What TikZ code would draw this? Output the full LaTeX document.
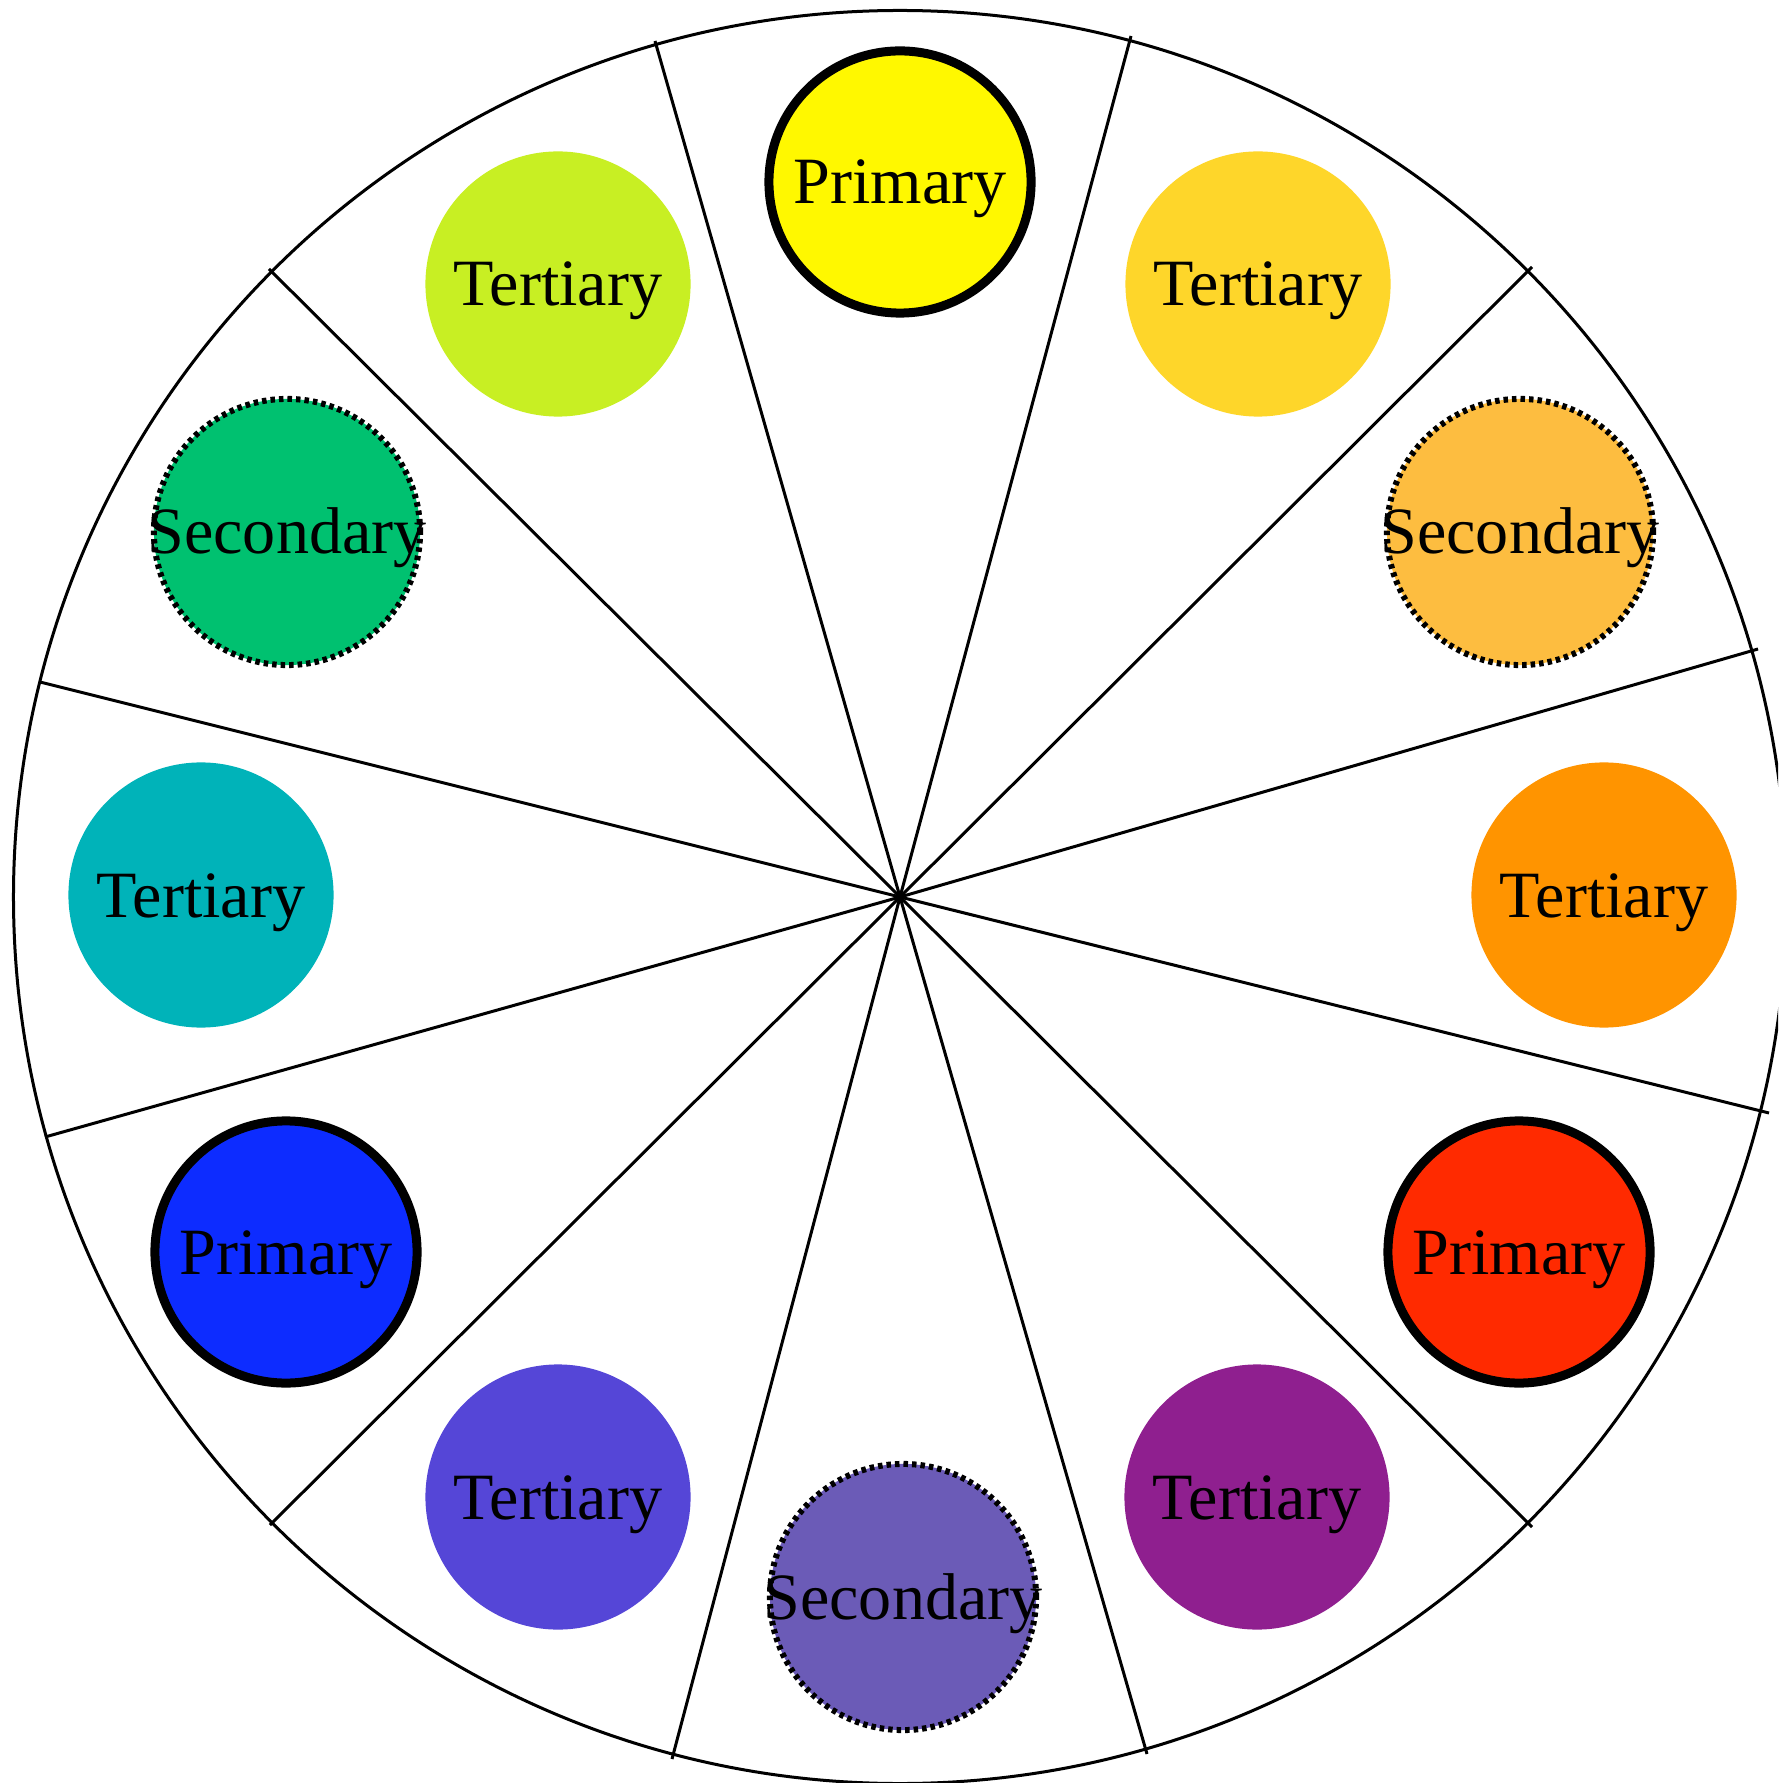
\documentclass[tikz,border=0pt]{standalone}
\usepackage{fontspec}
\setmainfont{Liberation Serif}
\definecolor{cYellow}{HTML}{FFF800}
\definecolor{cYellowOrange}{HTML}{FED62A}
\definecolor{cOrangeSec}{HTML}{FDBD40}
\definecolor{cOrange}{HTML}{FF9400}
\definecolor{cRed}{HTML}{FF2A00}
\definecolor{cRedViolet}{HTML}{8F1F8F}
\definecolor{cViolet}{HTML}{6B5BB7}
\definecolor{cBlueViolet}{HTML}{5546D7}
\definecolor{cBlue}{HTML}{0D2CFF}
\definecolor{cTeal}{HTML}{00B3B9}
\definecolor{cGreen}{HTML}{00C170}
\definecolor{cYellowGreen}{HTML}{C8EF23}
\tikzset{
  spoke/.style={line width=0.03cm, black},
  primarydot/.style={circle, inner sep=0pt, outer sep=0pt, minimum size=2.62cm, draw=black, line width=0.09cm},
  secondarydot/.style={circle, inner sep=0pt, outer sep=0pt, minimum size=2.66cm, draw=black, line width=0.06cm, dash pattern=on 0.045cm off 0.04cm},
  tertiarydot/.style={circle, inner sep=0pt, outer sep=0pt, minimum size=2.65cm},
  lbl/.style={anchor=base, inner sep=0pt, font=\fontsize{18.8}{23}\selectfont}
}
\begin{document}
\begin{tikzpicture}[x=0.01cm, y=-0.01cm]
\useasboundingbox (0,0) rectangle (1778,1783);
\begin{scope}
\clip (0,0) rectangle (1778,1783);
\fill[white] (0,0) rectangle (1778,1783);
\coordinate (c) at (900,897);
\node[circle, draw=black, line width=0.03cm, inner sep=0pt, minimum size=17.72cm] (wheel) at (c) {};
\coordinate (s1) at (655,41);
\coordinate (s2) at (1131,36);
\coordinate (s3) at (1532,267);
\coordinate (s4) at (1758,649);
\coordinate (s5) at (1769,1113);
\coordinate (s6) at (1532,1527);
\coordinate (s7) at (1147,1754);
\coordinate (s8) at (672,1759);
\coordinate (s9) at (270,1525);
\coordinate (s10) at (45,1137);
\coordinate (s11) at (40,682);
\coordinate (s12) at (269,269);
\foreach \i in {1,...,12}{\draw[spoke] (c) -- (s\i);}
% circles
\node[primarydot, fill=cYellow] (p1) at (900,182) {};
\node[tertiarydot, fill=cYellowOrange] (t1) at (1258,284) {};
\node[secondarydot, fill=cOrangeSec] (q1) at (1520,532) {};
\node[tertiarydot, fill=cOrange] (t2) at (1604,895) {};
\node[primarydot, fill=cRed] (p2) at (1519,1252) {};
\node[tertiarydot, fill=cRedViolet] (t3) at (1257,1497) {};
\node[secondarydot, fill=cViolet] (q2) at (903,1597) {};
\node[tertiarydot, fill=cBlueViolet] (t4) at (558,1497) {};
\node[primarydot, fill=cBlue] (p3) at (286,1252) {};
\node[tertiarydot, fill=cTeal] (t5) at (201,895) {};
\node[secondarydot, fill=cGreen] (q3) at (287,532) {};
\node[tertiarydot, fill=cYellowGreen] (t6) at (558,284) {};
% labels
\path (p1.center) ++(0,22) node[lbl] {Primary};
\path (p2.center) ++(0,22) node[lbl] {Primary};
\path (p3.center) ++(0,22) node[lbl] {Primary};
\path (q1.center) ++(0,22) node[lbl] {Secondary};
\path (q2.center) ++(0,22) node[lbl] {Secondary};
\path (q3.center) ++(0,22) node[lbl] {Secondary};
\path (t1.center) ++(0,22) node[lbl] {Tertiary};
\path (t2.center) ++(0,22) node[lbl] {Tertiary};
\path (t3.center) ++(0,22) node[lbl] {Tertiary};
\path (t4.center) ++(0,22) node[lbl] {Tertiary};
\path (t5.center) ++(0,22) node[lbl] {Tertiary};
\path (t6.center) ++(0,22) node[lbl] {Tertiary};
\end{scope}
\end{tikzpicture}
\end{document}
